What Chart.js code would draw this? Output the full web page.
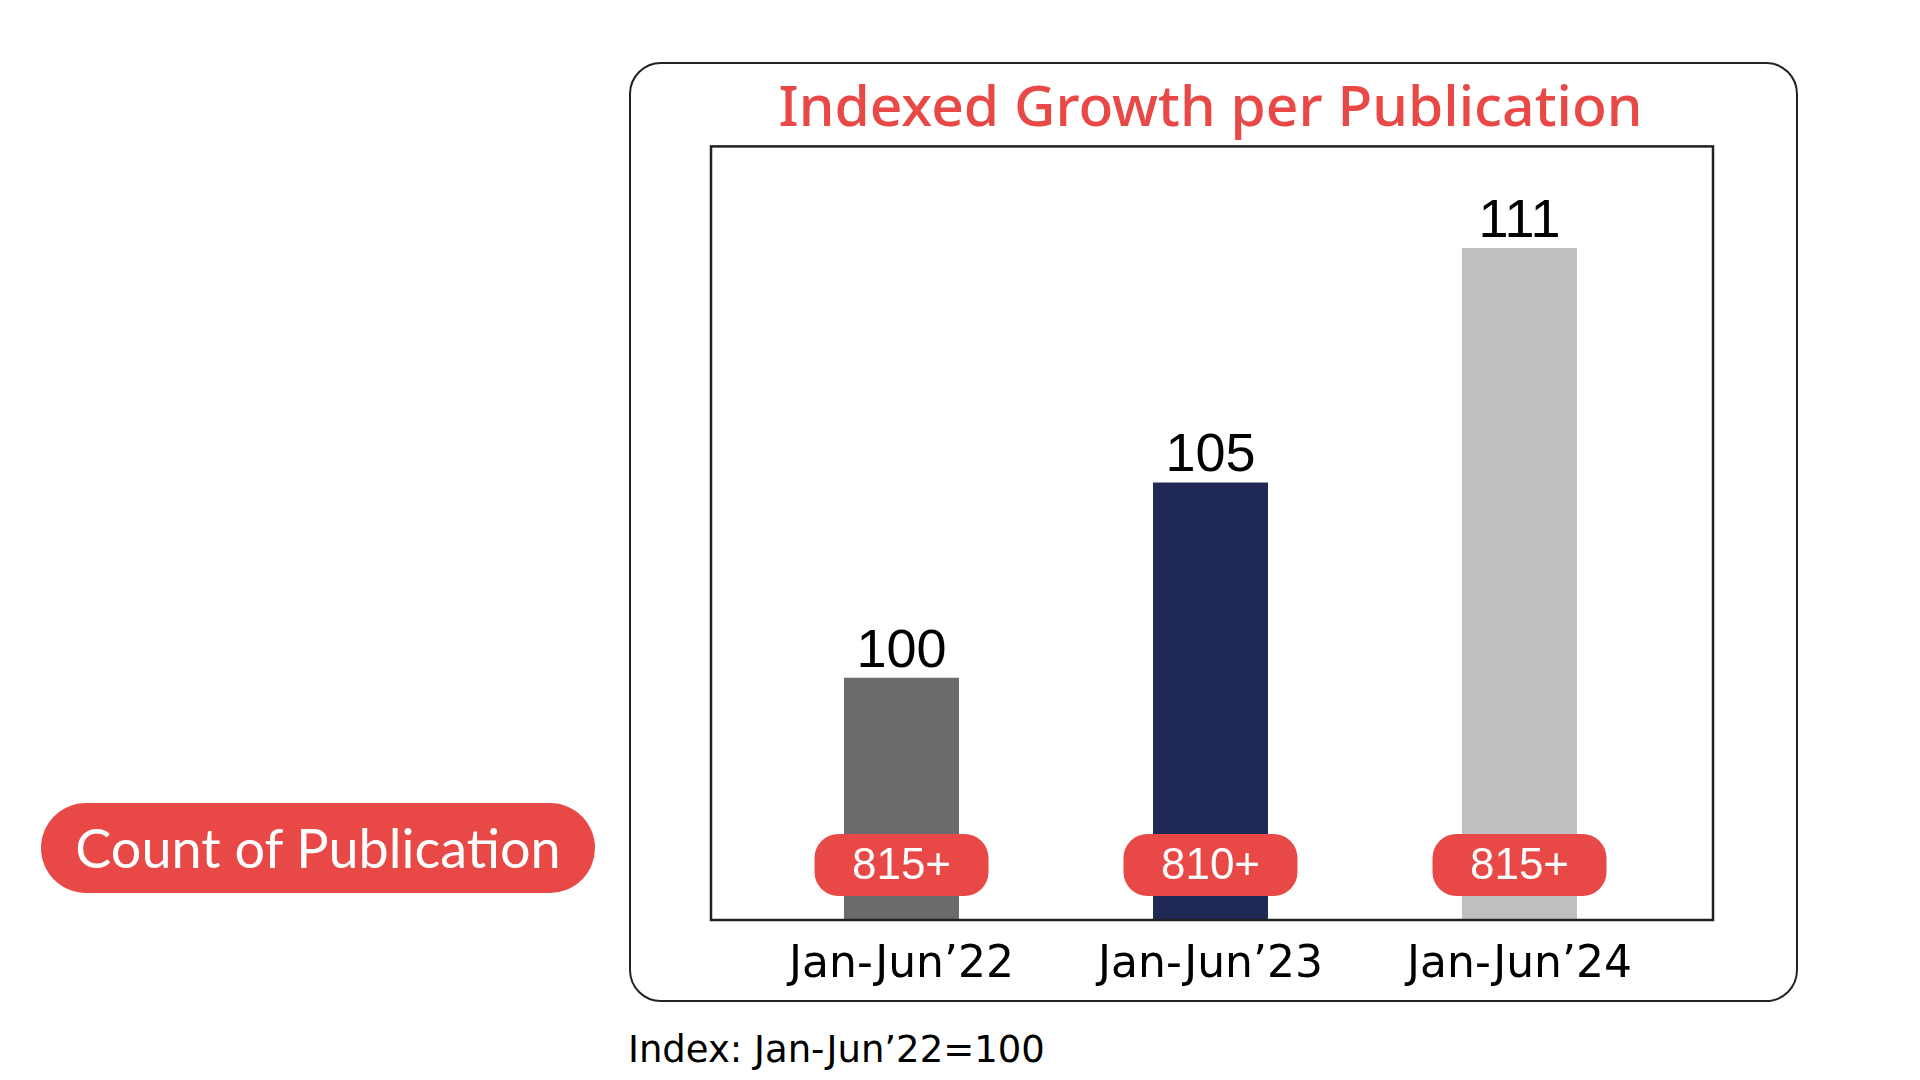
<!DOCTYPE html>
<html>
<head>
<meta charset="utf-8">
<script src="https://cdn.jsdelivr.net/npm/chart.js@4.4.1/dist/chart.umd.min.js"></script>
<style>
  html, body { margin: 0; padding: 0; background: #fff; }
  body { width: 1920px; height: 1080px; position: relative; overflow: hidden; font-family: "DejaVu Sans", sans-serif; }
  #frame {
    position: absolute; left: 629px; top: 62px; width: 1165px; height: 936px;
    border: 2.5px solid #222; border-radius: 32px;
  }
  #chart-wrap { position: absolute; left: 629px; top: 62px; width: 1169px; height: 940px; }
  #count-pill {
    position: absolute; left: 41px; top: 803px; width: 554px; height: 90px;
    background: #e84846; border-radius: 45px; color: #fff;
    font-family: Lato, sans-serif; font-size: 54px; line-height: 90px; text-align: center;
  }
  #note {
    position: absolute; left: 628px; top: 1026px; color: #000;
    font-family: "DejaVu Sans", sans-serif; font-size: 37px; line-height: 48px;
  }
</style>
</head>
<body>
<div id="frame"></div>
<div id="chart-wrap"><canvas id="growth"></canvas></div>
<div id="count-pill">Count of Publication</div>
<div id="note">Index: Jan-Jun’22=100</div>

<script>
// chart data
const periods = ['Jan-Jun’22', 'Jan-Jun’23', 'Jan-Jun’24'];
const indexValues = [100, 105, 111];
const pubCounts = ['815+', '810+', '815+'];
const barColors = ['#6b6b6b', '#202855', '#bfbfbf'];

const RED = '#e84846';

// draws the inner frame, the value labels and the red count pills
const decorations = {
    id: 'decorations',
    afterDatasetsDraw(chart) {
        const ctx = chart.ctx;
        const area = chart.chartArea;
        const bars = chart.getDatasetMeta(0).data;

        ctx.save();
        // inner frame around the plot
        ctx.strokeStyle = '#222';
        ctx.lineWidth = 2.5;
        ctx.strokeRect(area.left - 36, area.top, area.right - area.left + 75, area.bottom - area.top);

        bars.forEach((bar, i) => {
            // value above the bar
            ctx.fillStyle = '#000';
            ctx.font = '400 54px "Liberation Sans"';
            ctx.textAlign = 'center';
            ctx.textBaseline = 'alphabetic';
            ctx.fillText(String(indexValues[i]), bar.x, bar.y - 11);

            // pill with the publication count
            const w = 174, h = 62;
            const cy = area.bottom - 55;
            ctx.fillStyle = RED;
            ctx.beginPath();
            ctx.roundRect(bar.x - w / 2, cy - h / 2, w, h, 24);
            ctx.fill();
            ctx.fillStyle = '#fff';
            ctx.font = '400 44px "Liberation Sans"';
            ctx.textBaseline = 'middle';
            ctx.fillText(pubCounts[i], bar.x, cy + 2);
        });
        ctx.restore();
    }
};

function loadGrowthChart() {
    const ctx = document.getElementById('growth').getContext('2d');
    new Chart(ctx, {
        type: 'bar',
        data: {
            labels: periods,
            datasets: [{
                data: indexValues,
                backgroundColor: barColors,
                barPercentage: 0.372,
                categoryPercentage: 1
            }]
        },
        options: {
            responsive: true,
            maintainAspectRatio: false,
            animation: false,
            layout: {
                padding: { left: 118, right: 124, top: 0, bottom: 0 }
            },
            scales: {
                x: {
                    grid: { display: false, drawTicks: false },
                    border: { display: false },
                    afterFit(scale) { scale.height = 82; },
                    ticks: {
                        color: '#000',
                        padding: 19,
                        font: { family: 'DejaVu Sans', size: 44 }
                    }
                },
                y: {
                    display: false,
                    min: 93.8,
                    max: 113.6
                }
            },
            plugins: {
                legend: { display: false },
                tooltip: { enabled: false },
                title: {
                    display: true,
                    text: 'Indexed Growth per Publication',
                    color: RED,
                    padding: { top: 14, bottom: 2 },
                    font: { family: 'Noto Sans', size: 57, weight: '500' }
                }
            }
        },
        plugins: [decorations]
    });
}

loadGrowthChart();
</script>
</body>
</html>
